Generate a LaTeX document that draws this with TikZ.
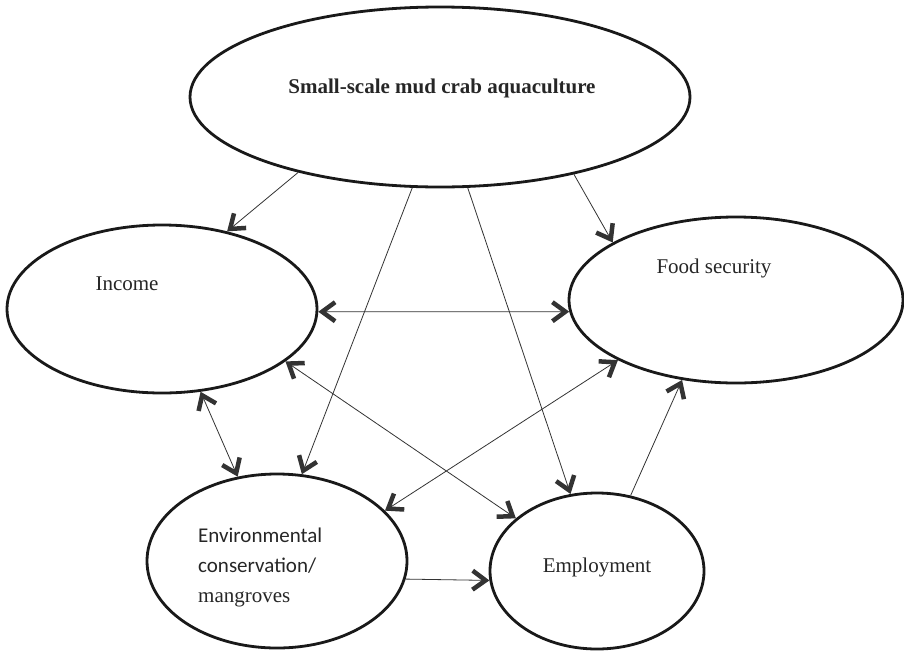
\documentclass[tikz,border=0pt]{standalone}
\usepackage{fontspec}
\setmainfont{Liberation Serif}
\newfontfamily\calibrifont{Carlito}
\usetikzlibrary{arrows.meta, shapes.geometric}

\tikzset{
  bubble/.style={ellipse, draw=black!90, line width=2.8pt, inner sep=0pt},
  barb/.style={>={Straight Barb[length=13pt, width=19pt, line width=4.5pt]}},
  link/.style={barb, line width=0.8pt, black!80, ->},
  twoway/.style={barb, line width=0.8pt, black!80, <->},
  caption/.style={text=black!85, font=\fontsize{21}{30}\selectfont, inner sep=0pt}
}

\begin{document}
\begin{tikzpicture}[x=1pt, y=-1pt]
  \useasboundingbox (0,0) rectangle (904,651);

  % Ellipses
  \node[bubble, minimum width=500pt, minimum height=180pt] (crab) at (440,97) {};
  \node[bubble, minimum width=310pt, minimum height=168pt] (inc) at (162,309) {};
  \node[bubble, minimum width=334pt, minimum height=166pt] (food) at (736,300) {};
  \node[bubble, minimum width=260pt, minimum height=174pt] (env) at (277,561) {};
  \node[bubble, minimum width=214pt, minimum height=156pt] (emp) at (597,571) {};

  % Labels
  \node[caption, font=\fontsize{21}{30}\selectfont\bfseries] (crabtext) at (442,88) {Small-scale mud crab aquaculture};
  \node[caption] (inctext) at (127,284) {Income};
  \node[caption] (foodtext) at (714,268) {Food security};
  \node[caption, anchor=west, align=left] (envtext) at (198,567)
    {{\calibrifont Environmental}\\{\calibrifont conservation/}\\\rmfamily mangroves};
  \node[caption] (emptext) at (597,567) {Employment};

  % From the aquaculture
  \draw[link] (crab.208) -- (inc.50);
  \draw[link] (crab.253) -- (env.74);
  \draw[link] (crab.287) -- (emp.109);
  \draw[link] (crab.330) -- (food.155);

  % Between the outcomes
  \draw[twoway] (inc.-1) -- (food.184);
  \draw[twoway] (inc.295) -- (env.115);
  \draw[twoway] (inc.337) -- (emp.147);
  \draw[twoway] (food.207) -- (env.25);
  \draw[link] (emp.66) -- (food.236);
  \draw[link] (env.352.5) -- (emp.185.5);
\end{tikzpicture}
\end{document}
